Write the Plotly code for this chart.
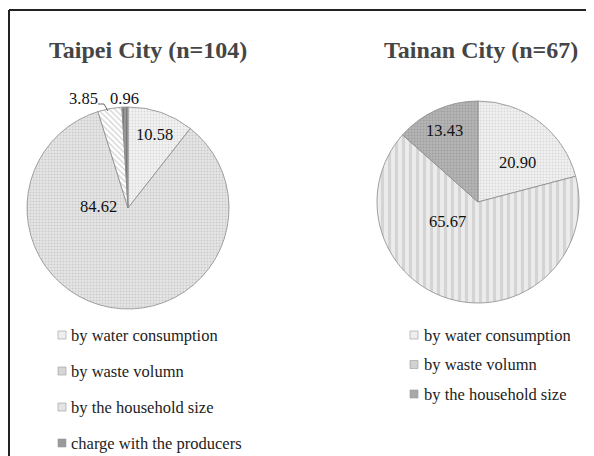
import plotly.graph_objects as go

# page offset (body margin) compensation
OFF = 8
W, H = 594 - OFF, 456 - OFF

# ---- data ----
taipei_title = "Taipei City (n=104)"
taipei_labels = ["by water consumption", "by waste volumn", "by the household size", "charge with the producers"]
taipei_values = [10.58, 84.62, 3.85, 0.96]

tainan_title = "Tainan City (n=67)"
tainan_labels = ["by water consumption", "by waste volumn", "by the household size"]
tainan_values = [20.90, 65.67, 13.43]


def px(x):
    return (x - OFF) / W


def py(y):
    return 1 - (y - OFF) / H


SERIF = "Liberation Serif, Times New Roman, serif"

fig = go.Figure()

# Taipei pie
fig.add_trace(go.Pie(
    labels=taipei_labels, values=taipei_values, sort=False, direction="clockwise",
    rotation=0, textinfo="none", hoverinfo="label+value", showlegend=False,
    domain=dict(x=[px(27), px(229)], y=[py(309), py(107)]),
    marker=dict(
        colors=["#f3f3f3", "#e2e2e2", "#ffffff", "#9a9a9a"],
        line=dict(color="#8a8a8a", width=0.8),
        pattern=dict(
            shape=[".", ".", "\\", "|"],
            fgcolor=["#bdbdbd", "#b0b0b0", "#8c8c8c", "#5a5a5a"],
            bgcolor=["#f3f3f3", "#e6e6e6", "#ffffff", "#9a9a9a"],
            size=[3, 3, 4, 3],
            solidity=[0.3, 0.35, 0.25, 0.4],
            fillmode="overlay",
        ),
    ),
))

# Tainan pie
fig.add_trace(go.Pie(
    labels=tainan_labels, values=tainan_values, sort=False, direction="clockwise",
    rotation=0, textinfo="none", hoverinfo="label+value", showlegend=False,
    domain=dict(x=[px(377), px(579)], y=[py(303), py(101)]),
    marker=dict(
        colors=["#f1f1f1", "#e6e6e6", "#b4b4b4"],
        line=dict(color="#8a8a8a", width=0.8),
        pattern=dict(
            shape=[".", "|", "."],
            fgcolor=["#bdbdbd", "#bcbcbc", "#8a8a8a"],
            bgcolor=["#f1f1f1", "#ececec", "#b4b4b4"],
            size=[3, 7, 3],
            solidity=[0.3, 0.45, 0.35],
            fillmode="overlay",
        ),
    ),
))

annotations = []
shapes = []

# titles
annotations.append(dict(x=px(148), y=py(50), xref="paper", yref="paper", text=taipei_title,
                        showarrow=False, xanchor="center", yanchor="middle",
                        font=dict(family=SERIF, size=24, color="#454545", weight="bold")))
annotations.append(dict(x=px(481), y=py(50), xref="paper", yref="paper", text=tainan_title,
                        showarrow=False, xanchor="center", yanchor="middle",
                        font=dict(family=SERIF, size=24, color="#454545", weight="bold")))

# value labels
taipei_label_pos = [(154, 134), (98, 206), (84, 98), (124, 98)]
for v, (x, y) in zip(taipei_values, taipei_label_pos):
    annotations.append(dict(x=px(x), y=py(y), xref="paper", yref="paper", text=f"{v:.2f}",
                            showarrow=False, xanchor="center", yanchor="middle",
                            font=dict(family=SERIF, size=16.5, color="#111")))
tainan_label_pos = [(517, 163), (447, 221), (444, 130)]
for v, (x, y) in zip(tainan_values, tainan_label_pos):
    annotations.append(dict(x=px(x), y=py(y), xref="paper", yref="paper", text=f"{v:.2f}",
                            showarrow=False, xanchor="center", yanchor="middle",
                            font=dict(family=SERIF, size=16.5, color="#111")))

# leader line for 3.85
shapes.append(dict(type="path", xref="paper", yref="paper",
                   path=f"M {px(98)} {py(104)} L {px(104)} {py(104)} L {px(108)} {py(111)}",
                   line=dict(color="#444", width=0.8)))

# legends
leg_fill = {
    "by water consumption": "#efefef",
    "by waste volumn": "#d6d6d6",
    "by the household size": "#e4e4e4",
    "charge with the producers": "#9a9a9a",
}
tainan_leg_fill = ["#efefef", "#d2d2d2", "#a8a8a8"]

for i, lab in enumerate(taipei_labels):
    yc = 335 + 36 * i
    shapes.append(dict(type="rect", xref="paper", yref="paper",
                       x0=px(58), x1=px(66), y0=py(yc + 4), y1=py(yc - 4),
                       fillcolor=leg_fill[lab], line=dict(color="#999", width=0.6)))
    annotations.append(dict(x=px(69), y=py(yc), xref="paper", yref="paper", text=lab,
                            showarrow=False, xanchor="left", yanchor="middle",
                            font=dict(family=SERIF, size=16.5, color="#222")))

for i, lab in enumerate(tainan_labels):
    yc = 335 + 29.5 * i
    shapes.append(dict(type="rect", xref="paper", yref="paper",
                       x0=px(410), x1=px(418), y0=py(yc + 4), y1=py(yc - 4),
                       fillcolor=tainan_leg_fill[i], line=dict(color="#999", width=0.6)))
    annotations.append(dict(x=px(422), y=py(yc), xref="paper", yref="paper", text=lab,
                            showarrow=False, xanchor="left", yanchor="middle",
                            font=dict(family=SERIF, size=16.5, color="#222")))

# frame (left and top edges)
shapes.append(dict(type="line", xref="paper", yref="paper", x0=px(9), x1=px(9), y0=py(10), y1=0,
                   line=dict(color="#222", width=2)))
shapes.append(dict(type="line", xref="paper", yref="paper", x0=px(9), x1=1, y0=py(10), y1=py(10),
                   line=dict(color="#222", width=2)))

fig.update_layout(
    width=W, height=H, margin=dict(l=0, r=0, t=0, b=0),
    paper_bgcolor="white", plot_bgcolor="white",
    annotations=annotations, shapes=shapes, showlegend=False,
)

fig.write_html("out.html")
